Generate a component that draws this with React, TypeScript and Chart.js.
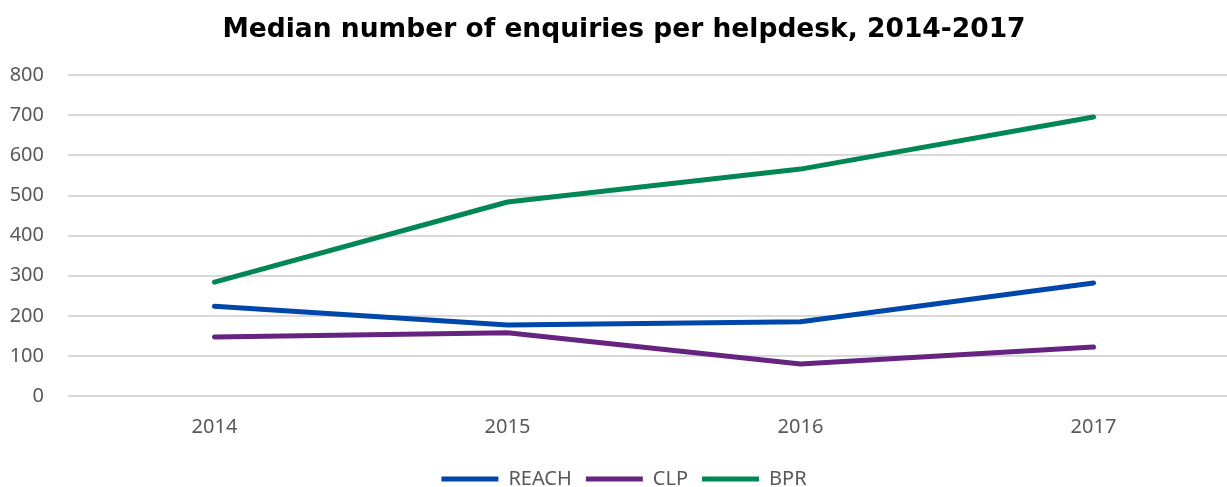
import React, { useEffect, useRef } from "react";
import { Chart, registerables } from "chart.js";

Chart.register(...registerables);

const years = ["2014", "2015", "2016", "2017"];
const reach = [224, 177, 185, 282];
const clp = [147, 158, 80, 122];
const bpr = [284, 484, 566, 696];

const titleText = "Median number of enquiries per helpdesk, 2014-2017";

const CANVAS_W = 1240;
const CANVAS_H = 503;

export default function App() {
  const ref = useRef<HTMLCanvasElement | null>(null);
  useEffect(() => {
    if (!ref.current) return;
    const chart = new Chart(ref.current, {
      type: "line",
      data: {
        labels: years,
        datasets: [
          { label: "REACH", data: reach, borderColor: "#0047AB", backgroundColor: "#0047AB" },
          { label: "CLP", data: clp, borderColor: "#662480", backgroundColor: "#662480" },
          { label: "BPR", data: bpr, borderColor: "#008755", backgroundColor: "#008755" },
        ].map((d) => ({
          ...d,
          borderWidth: 5,
          pointRadius: 0,
          pointHoverRadius: 0,
          tension: 0,
          borderCapStyle: "round" as const,
          borderJoinStyle: "round" as const,
        })),
      },
      options: {
        animation: false,
        responsive: false,
        maintainAspectRatio: false,
        layout: { padding: { left: 8, right: 0, top: 0, bottom: 4 } },
        plugins: {
          title: {
            display: true,
            text: titleText,
            color: "#000000",
            font: { family: "'DejaVu Sans', Verdana, sans-serif", size: 26.5, weight: "bold" },
            padding: { top: 14, bottom: 29.5 },
          },
          legend: {
            display: true,
            position: "bottom",
            labels: {
              usePointStyle: true,
              pointStyle: "line",
              pointStyleWidth: 57,
              color: "#595959",
              font: { family: "'Noto Sans', sans-serif", size: 20 },
              padding: 14,
            },
          },
          tooltip: { enabled: false },
        },
        scales: {
          x: {
            offset: true,
            grid: { display: false, drawTicks: false },
            border: { display: false },
            ticks: { color: "#595959", font: { family: "'Noto Sans', sans-serif", size: 20 }, padding: 19 },
            afterFit: (s: any) => {
              s.height = s.height - 3;
            },
          },
          y: {
            min: 0,
            max: 800,
            ticks: { stepSize: 100, color: "#595959", font: { family: "'Noto Sans', sans-serif", size: 20 }, padding: 24 },
            grid: { color: "#d9d9d9", lineWidth: 2, drawTicks: false },
            border: { display: false },
            afterFit: (s: any) => {
              s.width = 60;
            },
          },
        },
      },
    });
    return () => chart.destroy();
  }, []);
  return (
    <div style={{ position: "fixed", left: 0, top: 0, width: 1227, height: 487, overflow: "hidden", background: "#fff" }}>
      <canvas
        ref={ref}
        width={CANVAS_W}
        height={CANVAS_H}
        style={{ width: CANVAS_W, height: CANVAS_H, display: "block" }}
      />
    </div>
  );
}
